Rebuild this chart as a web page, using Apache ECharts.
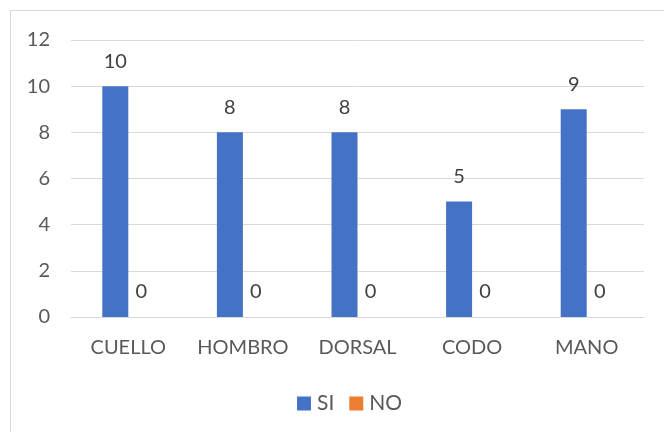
<!DOCTYPE html>
<html>
<head>
<meta charset="utf-8">
<script src="https://cdn.jsdelivr.net/npm/echarts@6/dist/echarts.min.js"></script>
<style>
  html, body { margin: 0; padding: 0; background: #fff; }
  #chart { width: 664px; height: 432px; }
</style>
</head>
<body>
<div id="chart"></div>
<script>
// Body regions and their counts
const categories = ['CUELLO', 'HOMBRO', 'DORSAL', 'CODO', 'MANO'];
const siValues = [10, 8, 8, 5, 9];
const noValues = [0, 0, 0, 0, 0];
const yTicks = { min: 0, max: 12, interval: 2 };

const FONT = 'Lato';
const TEXT = '#595959';
const GRID = '#d9d9d9';

const chart = echarts.init(document.getElementById('chart'), null, { renderer: 'canvas' });

const labelStyle = {
  show: true,
  position: 'top',
  distance: 15,
  color: '#404040',
  fontFamily: FONT,
  fontSize: 20
};

chart.setOption({
  animation: false,
  backgroundColor: '#fff',
  graphic: [{
    type: 'rect',
    shape: { x: 10.5, y: 10.5, width: 720, height: 500 },
    style: { fill: 'none', stroke: GRID, lineWidth: 1 },
    silent: true
  }],
  grid: { left: 71, right: 20, top: 40, bottom: 115, containLabel: false },
  legend: {
    bottom: 13,
    left: 292,
    itemWidth: 14,
    itemHeight: 14,
    itemGap: 15,
    icon: 'rect',
    textStyle: { color: TEXT, fontFamily: FONT, fontSize: 21, padding: [0, 0, 0, 1] },
    data: ['SI', 'NO']
  },
  xAxis: {
    type: 'category',
    data: categories,
    axisLine: { show: true, lineStyle: { color: GRID, width: 1 } },
    axisTick: { show: false },
    axisLabel: { color: TEXT, fontFamily: FONT, fontSize: 20, margin: 21, interval: 0 }
  },
  yAxis: {
    type: 'value',
    min: yTicks.min,
    max: yTicks.max,
    interval: yTicks.interval,
    axisLine: { show: false },
    axisTick: { show: false },
    splitLine: { lineStyle: { color: GRID, width: 1 } },
    axisLabel: { color: TEXT, fontFamily: FONT, fontSize: 20, margin: 21 }
  },
  series: [
    {
      name: 'SI',
      type: 'bar',
      data: siValues,
      barWidth: 26,
      barGap: '0%',
      itemStyle: { color: '#4472C4' },
      label: labelStyle
    },
    {
      name: 'NO',
      type: 'bar',
      data: noValues,
      barWidth: 26,
      barGap: '0%',
      itemStyle: { color: '#ED7D31' },
      label: labelStyle
    }
  ]
});
</script>
</body>
</html>
